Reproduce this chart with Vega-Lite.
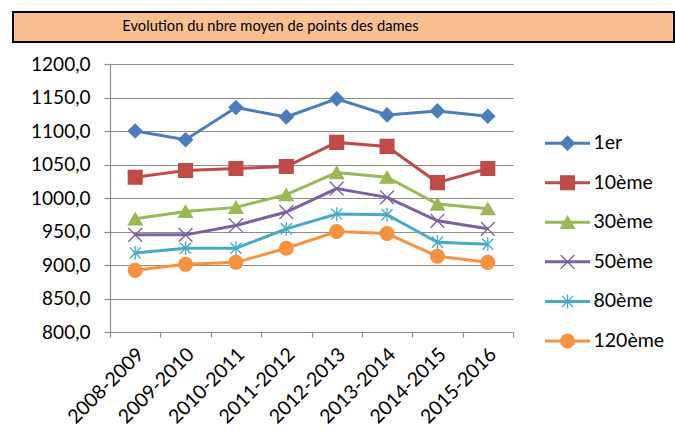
{
  "$schema": "https://vega.github.io/schema/vega-lite/v6.json",
  "padding": {"left": 12, "top": 11, "right": 0, "bottom": 0},
  "background": "white",
  "config": {"font": "Lato", "view": {"stroke": null}},
  "datasets": {
    "d": [
      {"saison": "2008-2009", "serie": "1er", "valeur": 1100},
      {"saison": "2009-2010", "serie": "1er", "valeur": 1087},
      {"saison": "2010-2011", "serie": "1er", "valeur": 1135},
      {"saison": "2011-2012", "serie": "1er", "valeur": 1121},
      {"saison": "2012-2013", "serie": "1er", "valeur": 1148},
      {"saison": "2013-2014", "serie": "1er", "valeur": 1124},
      {"saison": "2014-2015", "serie": "1er", "valeur": 1130},
      {"saison": "2015-2016", "serie": "1er", "valeur": 1122},
      {"saison": "2008-2009", "serie": "10ème", "valeur": 1031},
      {"saison": "2009-2010", "serie": "10ème", "valeur": 1041},
      {"saison": "2010-2011", "serie": "10ème", "valeur": 1044},
      {"saison": "2011-2012", "serie": "10ème", "valeur": 1047},
      {"saison": "2012-2013", "serie": "10ème", "valeur": 1083},
      {"saison": "2013-2014", "serie": "10ème", "valeur": 1077},
      {"saison": "2014-2015", "serie": "10ème", "valeur": 1023},
      {"saison": "2015-2016", "serie": "10ème", "valeur": 1044},
      {"saison": "2008-2009", "serie": "30ème", "valeur": 969},
      {"saison": "2009-2010", "serie": "30ème", "valeur": 980},
      {"saison": "2010-2011", "serie": "30ème", "valeur": 986},
      {"saison": "2011-2012", "serie": "30ème", "valeur": 1005},
      {"saison": "2012-2013", "serie": "30ème", "valeur": 1038},
      {"saison": "2013-2014", "serie": "30ème", "valeur": 1031},
      {"saison": "2014-2015", "serie": "30ème", "valeur": 991},
      {"saison": "2015-2016", "serie": "30ème", "valeur": 984},
      {"saison": "2008-2009", "serie": "50ème", "valeur": 945},
      {"saison": "2009-2010", "serie": "50ème", "valeur": 945},
      {"saison": "2010-2011", "serie": "50ème", "valeur": 959},
      {"saison": "2011-2012", "serie": "50ème", "valeur": 979},
      {"saison": "2012-2013", "serie": "50ème", "valeur": 1014},
      {"saison": "2013-2014", "serie": "50ème", "valeur": 1001},
      {"saison": "2014-2015", "serie": "50ème", "valeur": 966},
      {"saison": "2015-2016", "serie": "50ème", "valeur": 954},
      {"saison": "2008-2009", "serie": "80ème", "valeur": 918},
      {"saison": "2009-2010", "serie": "80ème", "valeur": 925},
      {"saison": "2010-2011", "serie": "80ème", "valeur": 925},
      {"saison": "2011-2012", "serie": "80ème", "valeur": 954},
      {"saison": "2012-2013", "serie": "80ème", "valeur": 976},
      {"saison": "2013-2014", "serie": "80ème", "valeur": 975},
      {"saison": "2014-2015", "serie": "80ème", "valeur": 934},
      {"saison": "2015-2016", "serie": "80ème", "valeur": 931},
      {"saison": "2008-2009", "serie": "120ème", "valeur": 892},
      {"saison": "2009-2010", "serie": "120ème", "valeur": 901},
      {"saison": "2010-2011", "serie": "120ème", "valeur": 904},
      {"saison": "2011-2012", "serie": "120ème", "valeur": 925},
      {"saison": "2012-2013", "serie": "120ème", "valeur": 950},
      {"saison": "2013-2014", "serie": "120ème", "valeur": 947},
      {"saison": "2014-2015", "serie": "120ème", "valeur": 913},
      {"saison": "2015-2016", "serie": "120ème", "valeur": 904}
    ],
    "leg": [
      {"serie": "1er"}, {"serie": "10ème"}, {"serie": "30ème"},
      {"serie": "50ème"}, {"serie": "80ème"}, {"serie": "120ème"}
    ]
  },
  "vconcat": [
    {
      "width": 661,
      "height": 30,
      "view": {"fill": "#F9BF8F", "stroke": "black", "strokeWidth": 2},
      "data": {"values": [{"t": "Evolution du nbre moyen de points des dames"}]},
      "mark": {"type": "text", "fontSize": 14.7, "dx": -73, "color": "black", "baseline": "middle", "font": "Lato"},
      "encoding": {"text": {"field": "t", "type": "nominal"}}
    },
    {
      "bounds": "flush",
      "spacing": 32,
      "hconcat": [
        {
          "width": 65,
          "height": 268,
          "data": {"values": [{"t": ""}]},
          "mark": {"type": "text"},
          "encoding": {"text": {"field": "t", "type": "nominal"}}
        },
        {
          "width": 403,
          "height": 268,
          "data": {"name": "d"},
          "encoding": {
            "x": {
              "field": "saison", "type": "ordinal",
              "scale": {"type": "band", "paddingInner": 0, "paddingOuter": 0},
              "axis": {
                "title": null, "labelAngle": -45, "tickBand": "extent", "grid": false,
                "domainColor": "#8c8c8c", "domainWidth": 1.2, "tickColor": "#8c8c8c", "tickWidth": 1.2, "tickSize": 5,
                "labelFontSize": 19.5, "labelColor": "black", "labelPadding": 14, "labelOffset": 5,
                "labelAlign": "right", "labelBaseline": "middle", "labelFont": "Lato"
              }
            },
            "y": {
              "field": "valeur", "type": "quantitative",
              "scale": {"domain": [800, 1200], "nice": false, "zero": false},
              "axis": {
                "title": null, "values": [800, 850, 900, 950, 1000, 1050, 1100, 1150, 1200],
                "labelExpr": "replace(format(datum.value, '.1f'), '.', ',')",
                "grid": true, "gridColor": "#8c8c8c", "gridWidth": 1.2,
                "domainColor": "#8c8c8c", "domainWidth": 1.2, "tickColor": "#8c8c8c", "tickWidth": 1.2, "tickSize": 6,
                "labelPadding": 14, "labelFontSize": 19, "labelColor": "black", "labelFont": "Lato"
              }
            }
          },
          "layer": [
            {
              "mark": {"type": "line", "strokeWidth": 3},
              "encoding": {
                "color": {
                  "field": "serie", "type": "nominal", "legend": null,
                  "scale": {"domain": ["1er", "10ème", "30ème", "50ème", "80ème", "120ème"],
                            "range": ["#4A7EBB", "#BE4B48", "#98B954", "#7D60A0", "#46AAC5", "#F69240"]}
                }
              }
            },
            {
              "mark": {"type": "point", "filled": true, "opacity": 1, "size": 190, "strokeWidth": 1.3},
              "encoding": {
                "shape": {
                  "field": "serie", "type": "nominal", "legend": null,
                  "scale": {"domain": ["1er", "10ème", "30ème", "50ème", "80ème", "120ème"],
                            "range": ["diamond", "square", "triangle-up", "M-1,-1L1,1M-1,1L1,-1", "M-0.8,-0.8L0.8,0.8M-0.8,0.8L0.8,-0.8M0,-1V1", "circle"]}
                },
                "fill": {
                  "field": "serie", "type": "nominal", "legend": null,
                  "scale": {"domain": ["1er", "10ème", "30ème", "50ème", "80ème", "120ème"],
                            "range": ["#4A7EBB", "#BE4B48", "#98B954", "#7D60A0", "#46AAC5", "#F69240"]}
                },
                "stroke": {
                  "field": "serie", "type": "nominal", "legend": null,
                  "scale": {"domain": ["1er", "10ème", "30ème", "50ème", "80ème", "120ème"],
                            "range": ["#4A7EBB", "#BE4B48", "#98B954", "#7D60A0", "#46AAC5", "#F69240"]}
                }
              }
            }
          ]
        },
        {
          "width": 45,
          "height": 277,
          "data": {"name": "leg"},
          "encoding": {
            "y": {
              "field": "serie", "type": "nominal", "axis": null,
              "scale": {"type": "point", "domain": ["1er", "10ème", "30ème", "50ème", "80ème", "120ème"], "padding": 1, "align": 1}
            }
          },
          "layer": [
            {
              "mark": {"type": "tick", "orient": "horizontal", "size": 45, "thickness": 3, "opacity": 1},
              "encoding": {
                "color": {
                  "field": "serie", "type": "nominal", "legend": null,
                  "scale": {"domain": ["1er", "10ème", "30ème", "50ème", "80ème", "120ème"],
                            "range": ["#4A7EBB", "#BE4B48", "#98B954", "#7D60A0", "#46AAC5", "#F69240"]}
                }
              }
            },
            {
              "mark": {"type": "point", "filled": true, "opacity": 1, "size": 190, "strokeWidth": 1.3},
              "encoding": {
                "shape": {
                  "field": "serie", "type": "nominal", "legend": null,
                  "scale": {"domain": ["1er", "10ème", "30ème", "50ème", "80ème", "120ème"],
                            "range": ["diamond", "square", "triangle-up", "M-1,-1L1,1M-1,1L1,-1", "M-0.8,-0.8L0.8,0.8M-0.8,0.8L0.8,-0.8M0,-1V1", "circle"]}
                },
                "fill": {
                  "field": "serie", "type": "nominal", "legend": null,
                  "scale": {"domain": ["1er", "10ème", "30ème", "50ème", "80ème", "120ème"],
                            "range": ["#4A7EBB", "#BE4B48", "#98B954", "#7D60A0", "#46AAC5", "#F69240"]}
                },
                "stroke": {
                  "field": "serie", "type": "nominal", "legend": null,
                  "scale": {"domain": ["1er", "10ème", "30ème", "50ème", "80ème", "120ème"],
                            "range": ["#4A7EBB", "#BE4B48", "#98B954", "#7D60A0", "#46AAC5", "#F69240"]}
                }
              }
            },
            {
              "mark": {"type": "text", "align": "left", "baseline": "middle", "dx": 26, "fontSize": 19.5, "color": "black", "font": "Lato"},
              "encoding": {"text": {"field": "serie", "type": "nominal"}}
            }
          ]
        }
      ]
    }
  ],
  "spacing": 12
}
